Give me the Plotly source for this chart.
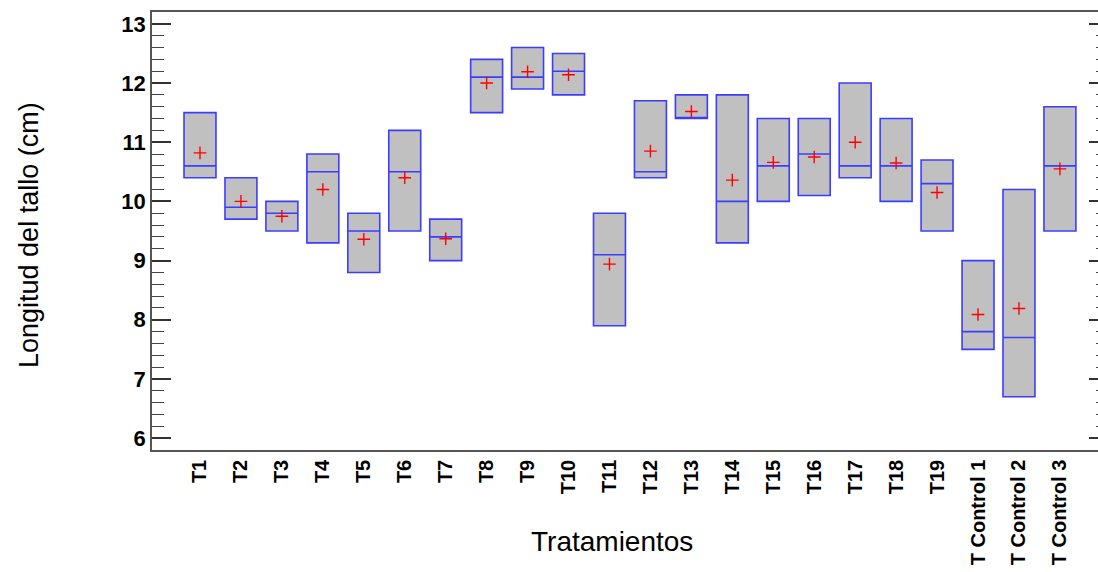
import plotly.graph_objects as go

# Treatments and their stem length summaries (cm)
tratamientos = ["T1", "T2", "T3", "T4", "T5", "T6", "T7", "T8", "T9", "T10",
                "T11", "T12", "T13", "T14", "T15", "T16", "T17", "T18", "T19",
                "T Control 1", "T Control 2", "T Control 3"]
minimo = [10.4, 9.7, 9.5, 9.3, 8.8, 9.5, 9.0, 11.5, 11.9, 11.8, 7.9,
          10.4, 11.4, 9.3, 10.0, 10.1, 10.4, 10.0, 9.5, 7.5, 6.7, 9.5]
maximo = [11.5, 10.4, 10.0, 10.8, 9.8, 11.2, 9.7, 12.4, 12.6, 12.5, 9.8,
          11.7, 11.8, 11.8, 11.4, 11.4, 12.0, 11.4, 10.7, 9.0, 10.2, 11.6]
mediana = [10.6, 9.9, 9.8, 10.5, 9.5, 10.5, 9.4, 12.1, 12.1, 12.2, 9.1,
           10.5, 11.4, 10.0, 10.6, 10.8, 10.6, 10.6, 10.3, 7.8, 7.7, 10.6]
media = [10.82, 10.0, 9.75, 10.2, 9.36, 10.4, 9.37, 12.0, 12.19, 12.14, 8.94,
         10.85, 11.52, 10.36, 10.66, 10.75, 11.0, 10.65, 10.15, 8.09, 8.19, 10.55]

y_ticks = [6, 7, 8, 9, 10, 11, 12, 13]

FONT = "Liberation Sans, Arial, sans-serif"
AXIS_COLOR = "#555555"

fig = go.Figure()

fig.add_trace(go.Box(
    x=tratamientos,
    q1=minimo, q3=maximo, median=mediana,
    lowerfence=minimo, upperfence=maximo,
    width=0.78,
    whiskerwidth=0,
    fillcolor="#c0c0c0",
    line=dict(color="#3c3cff", width=1.6),
    showlegend=False,
    hoverinfo="skip",
))

fig.add_trace(go.Scatter(
    x=tratamientos, y=media,
    mode="markers",
    marker=dict(symbol="cross-thin", size=9, line=dict(color="#ff0000", width=1.4)),
    showlegend=False,
    yaxis="y2",
))

fig.update_layout(
    width=1098, height=572,
    margin=dict(l=152, r=0, t=12, b=122),
    plot_bgcolor="white", paper_bgcolor="white",
    xaxis=dict(
        range=[-1.172, 21.93],
        showline=True, linecolor=AXIS_COLOR, linewidth=1.5, mirror=True,
        ticks="", tickangle=-90,
        tickfont=dict(family=FONT, size=20, color="black", weight="bold"),
        showgrid=False, zeroline=False,
    ),
    yaxis=dict(
        range=[5.8, 13.2],
        tickvals=y_ticks,
        showline=True, linecolor=AXIS_COLOR, linewidth=1.5,
        ticks="inside", ticklen=19, tickwidth=1.5, tickcolor="#333333",
        minor=dict(dtick=0.2, ticks="inside", ticklen=12, tickwidth=1.3, tickcolor="#444444"),
        tickfont=dict(family=FONT, size=22, color="black", weight="bold"),
        showgrid=False, zeroline=False,
    ),
    yaxis2=dict(
        matches="y", overlaying="y", side="right",
        tickvals=y_ticks, showticklabels=False,
        ticks="inside", ticklen=9, tickwidth=1.5, tickcolor="#333333",
        minor=dict(dtick=0.2, ticks="inside", ticklen=2, tickwidth=1.3, tickcolor="#444444"),
        showline=False, showgrid=False, zeroline=False,
    ),
    annotations=[
        dict(text="Tratamientos", xref="paper", yref="paper",
             x=(612 - 152) / 946, y=-(541 - 450) / 438,
             xanchor="center", yanchor="middle", showarrow=False,
             font=dict(family=FONT, size=28, color="black")),
        dict(text="Longitud del tallo (cm)", xref="paper", yref="paper",
             x=-(152 - 29) / 946, y=(450 - 235) / 438,
             xanchor="center", yanchor="middle", showarrow=False, textangle=-90,
             font=dict(family=FONT, size=27, color="black")),
    ],
)

fig.write_html("out.html")
